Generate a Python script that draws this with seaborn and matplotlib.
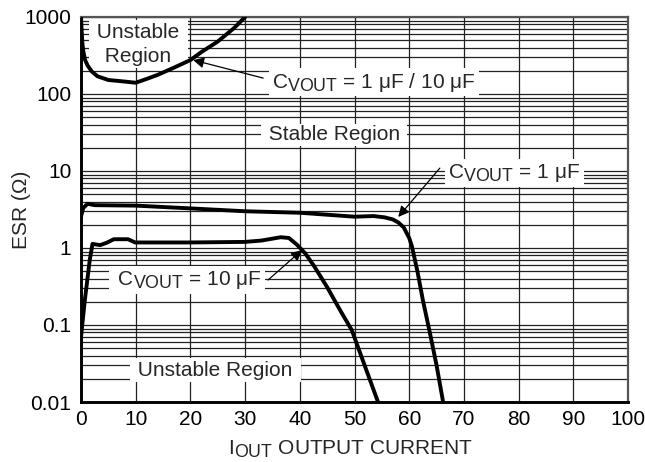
import numpy as np
import pandas as pd
import matplotlib
matplotlib.use("Agg")
import matplotlib.pyplot as plt
from matplotlib.ticker import LogLocator, NullFormatter
import seaborn as sns

try:  # larger subscripts, as in the reference
    import matplotlib._mathtext as _mt
    _mt.SHRINK_FACTOR = 0.85
except Exception:
    pass

# ---- data ----
# boundary curve C_VOUT = 1 uF / 10 uF (upper unstable region)
upper_x = [0, 0.1, 0.25, 0.45, 0.75, 1.2, 2, 3, 5, 8, 10, 12, 14, 17, 20, 22, 25, 28, 30]
upper_y = [1000, 700, 455, 350, 276, 235, 195, 170, 152, 145, 140, 157, 177, 220, 276, 350, 480, 720, 1000]

# C_VOUT = 1 uF lower boundary
c1_x = [0, 0.4, 1.2, 2.5, 10, 20, 30, 40, 50, 53.5, 55.5, 57, 58, 59, 60, 60.5, 61.5, 62.5, 63.8, 65, 66.2]
c1_y = [2.55, 3.3, 3.75, 3.6, 3.55, 3.27, 3.0, 2.87, 2.55, 2.6, 2.5, 2.35, 2.15, 1.85, 1.35, 1.05, 0.5, 0.21, 0.078, 0.03, 0.01]

# C_VOUT = 10 uF lower boundary
c10_x = [0, 0.7, 1.6, 2.1, 3.5, 4.7, 6, 8.6, 9.9, 20, 30, 33, 36.5, 38, 39.5, 41, 42.5, 45, 47.5, 49.5, 52, 54.3]
c10_y = [0.07, 0.21, 0.7, 1.13, 1.09, 1.17, 1.3, 1.3, 1.18, 1.18, 1.2, 1.25, 1.38, 1.35, 1.1, 0.85, 0.6, 0.31, 0.15, 0.086, 0.028, 0.01]

x_ticks = [0, 10, 20, 30, 40, 50, 60, 70, 80, 90, 100]
y_ticks = [0.01, 0.1, 1, 10, 100, 1000]
y_tick_labels = ["0.01", "0.1", "1", "10", "100", "1000"]

sns.set_style("white")
FONT = ["Liberation Sans", "DejaVu Sans"]
plt.rcParams["font.family"] = FONT
plt.rcParams["mathtext.fontset"] = "custom"
plt.rcParams["mathtext.rm"] = "Liberation Sans"
plt.rcParams["mathtext.it"] = "Liberation Sans:italic"
FS = 15
MU = "\u03bc"

fig = plt.figure(figsize=(6.45, 4.62), dpi=100)
ax = fig.add_axes([81 / 645, 1 - 402 / 462, 547 / 645, 385 / 462])

LW = 2.8
for xs, ys in [(upper_x, upper_y), (c1_x, c1_y), (c10_x, c10_y)]:
    df = pd.DataFrame({"x": xs, "y": ys})
    sns.lineplot(data=df, x="x", y="y", ax=ax, color="black", lw=LW,
                 sort=False, estimator=None, zorder=5)

ax.set_yscale("log")
ax.set_xlim(0, 100)
ax.set_ylim(0.01, 1000)
ax.set_xticks(x_ticks)
ax.set_xticklabels([str(v) for v in x_ticks])
ax.set_yticks(y_ticks)
ax.set_yticklabels(y_tick_labels)
ax.yaxis.set_minor_locator(LogLocator(base=10, subs=np.arange(2, 10)))
ax.yaxis.set_minor_formatter(NullFormatter())
ax.tick_params(axis="both", which="both", length=0, labelsize=FS, colors="black")
ax.tick_params(axis="x", pad=6)
ax.tick_params(axis="y", pad=7)

ax.grid(True, which="major", axis="both", color="#222222", lw=0.9)
ax.grid(True, which="minor", axis="y", color="#222222", lw=0.9)
ax.set_axisbelow(True)

for s in ["left", "bottom"]:
    ax.spines[s].set_linewidth(2.1)
    ax.spines[s].set_color("black")
for s in ["top", "right"]:
    ax.spines[s].set_linewidth(1.6)
    ax.spines[s].set_color("#555555")

ax.set_xlabel(r"I$_{\mathrm{OUT}}$ OUTPUT CURRENT", fontsize=FS)
ax.set_ylabel("ESR (\u03a9)", fontsize=FS)
ax.xaxis.label.set_va("center")
ax.yaxis.label.set_va("center")
ax.xaxis.set_label_coords(0.4936, -0.122)
ax.yaxis.set_label_coords(-0.108, 0.5)

box = dict(facecolor="white", edgecolor="none", pad=2)
arrow = dict(arrowstyle="-|>", color="black", lw=0.9, mutation_scale=16,
             shrinkA=0, shrinkB=0)

# region labels
ax.text(10.5, 440, " Unstable \n Region ", ha="center", va="center", fontsize=FS,
        linespacing=1.3, bbox=box, zorder=4)
ax.text(46.3, 29.4, " Stable Region ", ha="center", va="center", fontsize=FS,
        bbox=dict(facecolor="white", edgecolor="none", pad=1.2), zorder=4)
ax.text(24.6, 0.026, " Unstable Region ", ha="center", va="center", fontsize=FS,
        bbox=box, zorder=4)

# capacitor labels
ax.text(34.9, 143, r"C$_{\mathrm{VOUT}}$ = 1 " + MU + "F / 10 " + MU + "F ",
        ha="left", va="center", fontsize=FS, bbox=box, zorder=4)
ax.annotate("", xy=(20.5, 276), xytext=(33.3, 161), arrowprops=arrow, zorder=6)

ax.text(67.1, 9.4, r"C$_{\mathrm{VOUT}}$ = 1 " + MU + "F ", ha="left", va="center",
        fontsize=FS, bbox=box, zorder=4)
ax.annotate("", xy=(58.0, 2.53), xytext=(65.6, 10.9), arrowprops=arrow, zorder=6)

ax.text(5.6, 0.384, r" C$_{\mathrm{VOUT}}$ = 10 " + MU + "F ", ha="left", va="center",
        fontsize=FS, bbox=box, zorder=4)
ax.annotate("", xy=(40.4, 0.94), xytext=(34.2, 0.384), arrowprops=arrow, zorder=6)

fig.savefig("out.png", dpi=100, facecolor="white")
